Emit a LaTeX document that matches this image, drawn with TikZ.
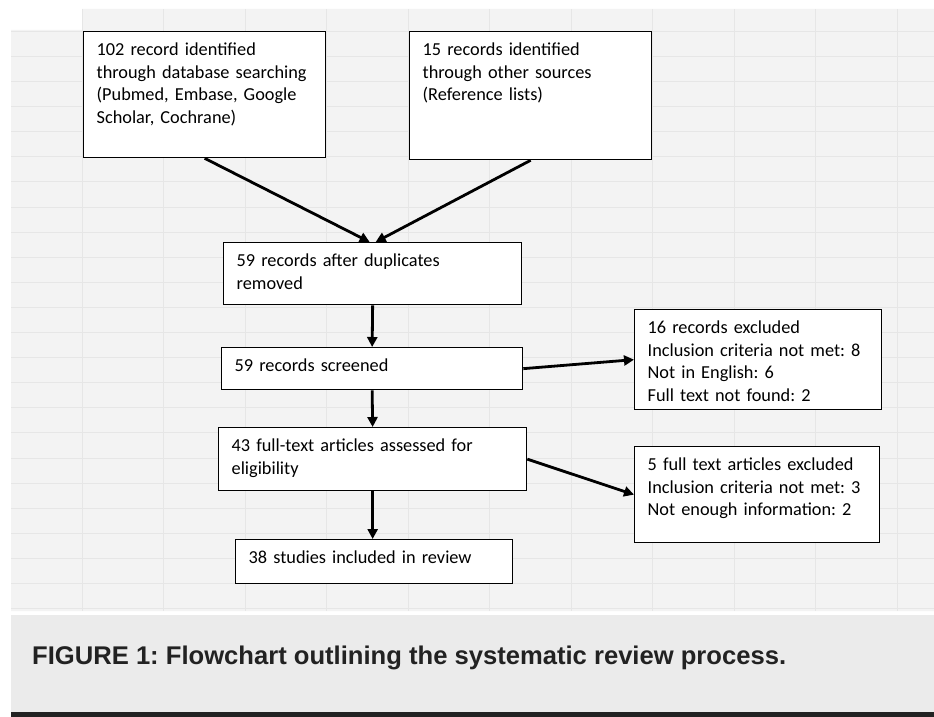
\documentclass[tikz,border=0pt]{standalone}
\usepackage{fontspec}
\setmainfont{Carlito}
\newfontfamily\capfont{Liberation Sans}
\usetikzlibrary{arrows.meta}
\frenchspacing

\definecolor{sheet}{HTML}{F3F3F3}
\definecolor{gridline}{HTML}{E6E6E6}
\definecolor{capfill}{HTML}{EBEBEB}
\definecolor{capbar}{HTML}{222222}

\begin{document}
\begin{tikzpicture}[x=1pt, y=-1pt,
    stage/.style={draw, line width=1.3pt, fill=white, anchor=north west, align=left,
      inner xsep=13pt, inner ysep=0pt, text height=24pt,
      font=\fontsize{18.3}{22.5}\selectfont},
    link/.style={line width=2.8pt, -{Triangle[length=10pt,width=10pt]}}]
    \useasboundingbox (0,0) rectangle (934,717);
    % sheet background and grid
    \fill[sheet] (82,9) -- (934,9) -- (934,611) -- (11,611) -- (11,30) -- (82,30) -- cycle;
    \foreach \gx in {82,163.5,...,934} \draw[gridline] (\gx,9) -- (\gx,611);
    \foreach \gy in {31,56.1,...,611} \draw[gridline] (11,\gy) -- (934,\gy);
    % boxes
    \node[stage, text width=216pt, text depth=102pt] (search) at (83,31) {102 record identified\\through database searching\\(Pubmed, Embase, Google\\Scholar, Cochrane)};
    \node[stage, text width=216pt, text depth=104pt] (other) at (409,31) {15 records identified\\through other sources\\(Reference lists)};
    \node[stage, text width=272pt, text depth=38pt] (dedup) at (223,242) {59 records after duplicates\\removed};
    \node[stage, text width=275pt, text depth=18pt] (screened) at (221,347) {59 records screened};
    \node[stage, text width=282pt, text depth=39pt] (fulltext) at (218,427) {43 full-text articles assessed for\\eligibility};
    \node[stage, text width=251pt, text depth=20pt] (included) at (235,539) {38 studies included in review};
    \node[stage, text width=221pt, text depth=76pt] (excl1) at (634,309) {16 records excluded\\Inclusion criteria not met: 8\\Not in English: 6\\Full text not found: 2};
    \node[stage, text width=219pt, text depth=72pt] (excl2) at (634,446) {5 full text articles excluded\\Inclusion criteria not met: 3\\Not enough information: 2};
    % arrows
    \draw[link] (search.south) -- ([xshift=-3pt]dedup.north);
    \draw[link] (other.south) -- ([xshift=3pt]dedup.north);
    \draw[link] (dedup.south) -- (screened.north);
    \draw[link] (screened.south) -- (fulltext.north);
    \draw[link] (fulltext.south) -- (fulltext.south |- included.north);
    \draw[link] (screened.east) -- (excl1.west);
    \draw[link] (fulltext.east) -- (excl2.west);
    % caption
    \fill[capfill] (11,615) rectangle (934,712);
    \fill[capbar] (11,712) rectangle (934,717);
    \node[anchor=base west, inner sep=0pt, text=capbar,
      font=\capfont\bfseries\fontsize{25.6}{30}\selectfont] (caption) at (32,664)
      {FIGURE 1: Flowchart outlining the systematic review process.};
\end{tikzpicture}
\end{document}
